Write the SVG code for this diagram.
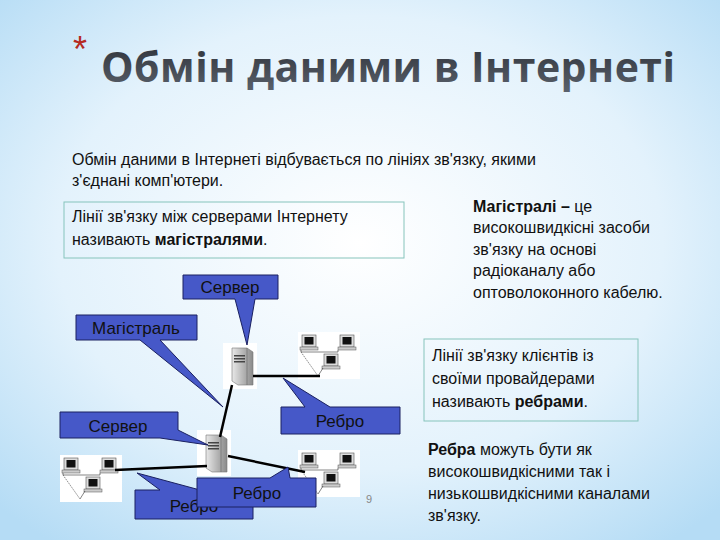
<svg xmlns="http://www.w3.org/2000/svg" width="720" height="540" viewBox="0 0 720 540">
<defs>
<radialGradient id="bg" cx="0.5" cy="0.45" r="0.7">
<stop offset="0" stop-color="#ffffff"/><stop offset="0.6" stop-color="#e3f2fc"/><stop offset="1" stop-color="#b5dcf5"/>
</radialGradient>
<linearGradient id="tg" x1="0" y1="0" x2="0" y2="1"><stop offset="0" stop-color="#2a2e35"/><stop offset="1" stop-color="#5c636e"/></linearGradient>
<linearGradient id="srv" x1="0" y1="0" x2="1" y2="0"><stop offset="0" stop-color="#e8e8e8"/><stop offset="0.5" stop-color="#b8b8b8"/><stop offset="1" stop-color="#8a8a8a"/></linearGradient>
<g id="pc">
<rect x="0" y="0" width="14" height="12" fill="#ddd" stroke="#555" stroke-width="0.6"/>
<rect x="2.5" y="2" width="9" height="7.5" fill="#111"/>
<rect x="-2" y="12" width="18" height="3" fill="#ccc" stroke="#555" stroke-width="0.5"/>
</g>
<g id="cluster">
<rect x="0" y="0" width="62" height="47" fill="#fff"/>
<use href="#pc" x="4" y="3"/><use href="#pc" x="42" y="3"/><use href="#pc" x="26" y="22"/>
<polyline points="3,18 3,20 40,20 40,18" fill="none" stroke="#333" stroke-width="0.6"/>
<line x1="3" y1="20" x2="20" y2="44" stroke="#333" stroke-width="0.6" stroke-dasharray="1.5,1"/>
<line x1="20" y1="44" x2="25" y2="36" stroke="#333" stroke-width="0.6"/>
</g>
<g id="server">
<rect x="0" y="0" width="34" height="46" fill="#fff"/>
<polygon points="9,5 24,5 30,9 30,42 15,42 9,38" fill="url(#srv)" stroke="#777" stroke-width="0.6"/>
<line x1="24" y1="5" x2="24" y2="42" stroke="#666" stroke-width="0.6"/>
<rect x="11" y="12" width="11" height="1.5" fill="#444"/><rect x="11" y="15" width="11" height="1.5" fill="#444"/><rect x="11" y="18" width="11" height="1.5" fill="#444"/>
</g>
</defs>
<style>
.t{font-family:"Liberation Sans",Arial,sans-serif;font-size:16px;fill:#111}
.b{font-weight:bold}
.call{fill:#4658c8;stroke:#1a2060;stroke-width:1}
.cl{font-family:"Liberation Sans",Arial,sans-serif;font-size:17px;fill:#111}
.box{fill:none;stroke:#86c4bb;stroke-width:1}
.wire{stroke:#000;stroke-width:2.5;fill:none}
</style>
<rect width="720" height="540" fill="url(#bg)"/>
<text x="73" y="62" font-family="Liberation Sans,sans-serif" font-size="36" fill="#b52a22">*</text>
<text x="101" y="82" font-family="Open Sans,DejaVu Sans,sans-serif" font-size="41" font-weight="bold" fill="url(#tg)" textLength="574">Обмін даними в Інтернеті</text>

<text class="t" x="72" y="165">Обмін даними в Інтернеті відбувається по лініях зв'язку, якими</text>
<text class="t" x="72" y="186">з'єднані комп'ютери.</text>
<rect class="box" x="64" y="202" width="340" height="56"/>
<text class="t" x="72" y="222">Лінії зв'язку між серверами Інтернету</text>
<text class="t" x="72" y="245">називають <tspan class="b">магістралями</tspan>.</text>
<text class="t" x="473" y="212"><tspan class="b">Магістралі –</tspan> це</text>
<text class="t" x="473" y="233">високошвидкісні засоби</text>
<text class="t" x="473" y="255">зв'язку на основі</text>
<text class="t" x="473" y="276">радіоканалу або</text>
<text class="t" x="473" y="298">оптоволоконного кабелю.</text>
<rect class="box" x="424" y="339" width="214" height="82"/>
<text class="t" x="432" y="361">Лінії зв'язку клієнтів із</text>
<text class="t" x="432" y="384">своїми провайдерами</text>
<text class="t" x="432" y="407">називають <tspan class="b">ребрами</tspan>.</text>
<text class="t" x="428" y="455"><tspan class="b">Ребра</tspan> можуть бути як</text>
<text class="t" x="428" y="477">високошвидкісними так і</text>
<text class="t" x="428" y="499">низькошвидкісними каналами</text>
<text class="t" x="428" y="521">зв'язку.</text>
<text x="366" y="503" font-family="Liberation Sans,sans-serif" font-size="11" fill="#888">9</text>

<g id="cluster1"><use href="#cluster" x="298" y="332"/></g>
<g id="cluster2"><use href="#cluster" x="298" y="450"/></g>
<g id="cluster3"><use href="#cluster" x="60" y="455"/></g>
<g id="server1"><use href="#server" x="223" y="343"/></g>
<g id="server2"><use href="#server" x="197" y="430"/></g>
<g id="connectors">
<line class="wire" x1="253" y1="376" x2="320" y2="376"/>
<line class="wire" x1="232" y1="385" x2="220" y2="437"/>
<line class="wire" x1="228" y1="456" x2="305" y2="472"/>
<line class="wire" x1="115" y1="470" x2="207" y2="466"/>
</g>

<g id="call-server-top">
<polygon class="call" points="183,275 278,275 278,299 255,299 247,345 235,299 183,299"/>
<text class="cl" x="230" y="293" text-anchor="middle">Сервер</text>
</g>
<g id="call-magistral">
<polygon class="call" points="76,315 197,315 197,340 160,340 223,407 140,340 76,340"/>
<text class="cl" x="136" y="334" text-anchor="middle">Магістраль</text>
</g>
<g id="call-rebro-right">
<polygon class="call" points="281,407 305,407 283,378 330,407 400,407 400,434 281,434"/>
<text class="cl" x="340" y="427" text-anchor="middle">Ребро</text>
</g>
<g id="call-server-low">
<polygon class="call" points="60,412 178,412 178,430 208,445 160,438 60,438"/>
<text class="cl" x="118" y="432" text-anchor="middle">Сервер</text>
</g>
<g id="call-rebro-bottom">
<polygon class="call" points="135,490 160,490 137,473 200,490 253,490 253,519 135,519"/>
<text class="cl" x="194" y="512" text-anchor="middle">Ребро</text>
</g>
<g id="call-rebro-center">
<polygon class="call" points="197,478 270,478 288,467 290,478 316,478 316,507 197,507"/>
<text class="cl" x="257" y="499" text-anchor="middle">Ребро</text>
</g>
</svg>
